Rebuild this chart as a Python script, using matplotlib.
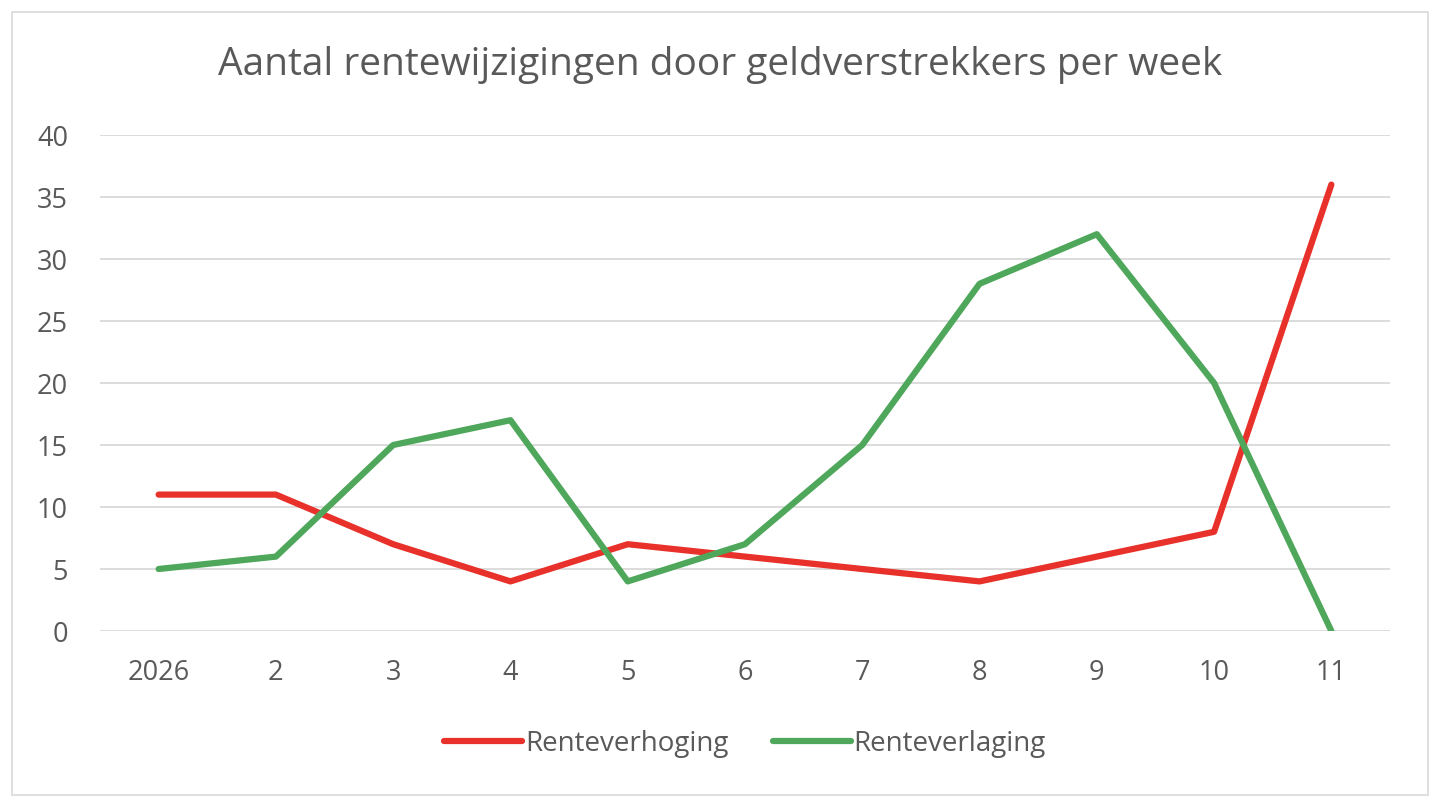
import matplotlib.pyplot as plt
from matplotlib.patches import Rectangle

# data
weeks = ['2026', '2', '3', '4', '5', '6', '7', '8', '9', '10', '11']
renteverhoging = [11, 11, 7, 4, 7, 6, 5, 4, 6, 8, 36]
renteverlaging = [5, 6, 15, 17, 4, 7, 15, 28, 32, 20, 0]
y_ticks = [0, 5, 10, 15, 20, 25, 30, 35, 40]

text_color = '#595959'
red = '#E8312A'
green = '#4EA75A'

plt.rcParams['font.family'] = ['Open Sans', 'DejaVu Sans']

fig = plt.figure(figsize=(14.4, 8.07), dpi=100)
fig.patches.append(Rectangle((12 / 1440, 12 / 807), 1416 / 1440, 783 / 807,
                             transform=fig.transFigure, fill=False,
                             edgecolor='#D9D9D9', linewidth=1.2))

ax = fig.add_axes([100 / 1440, 1 - 631 / 807, 1290 / 1440, 496 / 807])
x = list(range(len(weeks)))
ax.plot(x, renteverhoging, color=red, lw=4.5, solid_capstyle='round',
        solid_joinstyle='round', label='Renteverhoging', zorder=3)
ax.plot(x, renteverlaging, color=green, lw=4.5, solid_capstyle='round',
        solid_joinstyle='round', label='Renteverlaging', zorder=3)

ax.set_xlim(-0.5, len(weeks) - 0.5)
ax.set_ylim(0, 40)
ax.set_yticks(y_ticks)
ax.set_xticks(x)
ax.set_xticklabels(weeks)
ax.grid(axis='y', color='#D9D9D9', lw=1.3)
ax.set_axisbelow(True)
for s in ax.spines.values():
    s.set_visible(False)
ax.tick_params(length=0, labelsize=19.5, colors=text_color, pad=20)
ax.tick_params(axis='y', pad=23)

fig.text(0.5, 1 - 65 / 807, 'Aantal rentewijzigingen door geldverstrekkers per week',
         ha='center', va='center', fontsize=28, color=text_color)

leg = ax.legend(loc='center', bbox_to_anchor=(0.5, (631 - 744) / 496), ncol=2,
                frameon=False, fontsize=20, handlelength=2.8, handletextpad=0.1,
                columnspacing=1.6)
for t in leg.get_texts():
    t.set_color(text_color)

fig.savefig('out.png', dpi=100)
